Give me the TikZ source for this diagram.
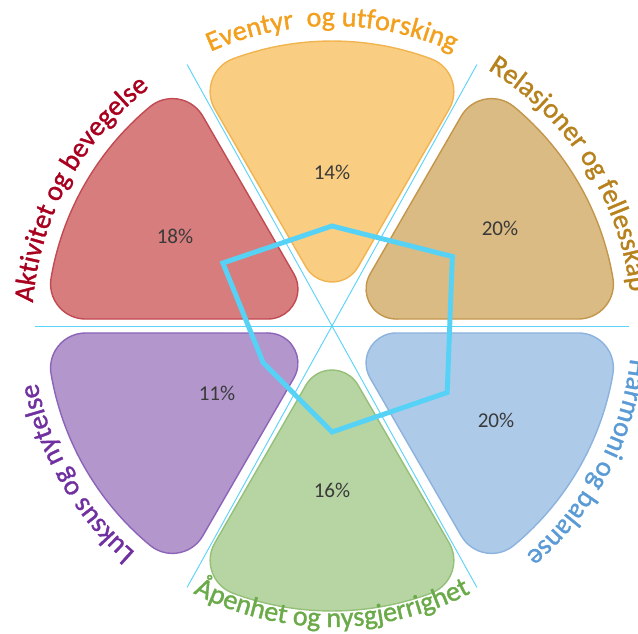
\documentclass[tikz,border=0pt]{standalone}
\usepackage{fontspec}
\setmainfont{Carlito}
\newfontfamily\labelfam{Carlito}[BoldFont=Carlito,BoldFeatures={FakeBold=1.2}]
\usetikzlibrary{decorations.text}
\definecolor{redfill}{HTML}{D77D7D}
\definecolor{redline}{HTML}{C24A52}
\definecolor{redtext}{HTML}{A8001E}
\definecolor{orgfill}{HTML}{F9CE82}
\definecolor{orgline}{HTML}{F2B450}
\definecolor{orgtext}{HTML}{F2A01E}
\definecolor{tanfill}{HTML}{DABB84}
\definecolor{tanline}{HTML}{C4964B}
\definecolor{tantext}{HTML}{B7821E}
\definecolor{blufill}{HTML}{ADCBE9}
\definecolor{bluline}{HTML}{8CB2DE}
\definecolor{blutext}{HTML}{5B9BD5}
\definecolor{grnfill}{HTML}{B7D5A3}
\definecolor{grnline}{HTML}{94C078}
\definecolor{grntext}{HTML}{6AAA48}
\definecolor{purfill}{HTML}{B296CC}
\definecolor{purline}{HTML}{8C64B9}
\definecolor{purtext}{HTML}{7030A0}
\definecolor{pcttext}{HTML}{3A3A3A}
\definecolor{linecol}{HTML}{5CD3F8}
\definecolor{radarcol}{HTML}{56D2F6}
\newcommand{\petalpath}{(25.98,59) -- (117.16,216.9) arc[start angle=-30, end angle=69.67, radius=35] arc[start angle=69.67, end angle=110.33, radius=285] arc[start angle=110.33, end angle=210, radius=35] -- (-25.98,59) arc[start angle=210, end angle=330, radius=30] -- cycle}
\newcommand{\labelfont}{\labelfam\bfseries\fontsize{24}{28}\selectfont}
\tikzset{
    petal/.style={line width=1.2pt},
    petred/.style={petal,fill=redfill,draw=redline},
    petorg/.style={petal,fill=orgfill,draw=orgline},
    pettan/.style={petal,fill=tanfill,draw=tanline},
    petblu/.style={petal,fill=blufill,draw=bluline},
    petgrn/.style={petal,fill=grnfill,draw=grnline},
    petpur/.style={petal,fill=purfill,draw=purline},
    divider/.style={draw=linecol,line width=0.8pt},
    radar/.style={draw=radarcol,line width=4.2pt},
    pct/.style={text=pcttext,font=\fontsize{18}{20}\selectfont,inner sep=0pt},
    arclabel/.style={decorate,decoration={text along path,text align=center,text={#1}}}
}
\begin{document}
\begin{tikzpicture}[x=0.03cm,y=0.03cm]
        \useasboundingbox (-332,-307) rectangle (306,326);

        % petals
        \draw[petorg] \petalpath;
        \draw[pettan,rotate=-60] \petalpath;
        \draw[petblu,rotate=-120] \petalpath;
        \draw[petgrn,rotate=180] \petalpath;
        \draw[petpur,rotate=120] \petalpath;
        \draw[petred,rotate=60] \petalpath;

        % dividing lines
        \draw[divider] (180:297) -- (0:297);
        \draw[divider] (119:299) -- (299:299);
        \draw[divider] (61:299) -- (241:299);

        % percentages
        \node[pct] (pcteventyr) at (0,154) {14\%};
        \node[pct] (pctrelasjon) at (168,98) {20\%};
        \node[pct] (pctharmoni) at (164,-94) {20\%};
        \node[pct] (pctapenhet) at (0,-164) {16\%};
        \node[pct] (pctluksus) at (-115,-67) {11\%};
        \node[pct] (pctaktivitet) at (-157,90) {18\%};

        % radar
        \coordinate (radeventyr) at (90:100);
        \coordinate (radrelasjon) at (30:139);
        \coordinate (radharmoni) at (-30:133);
        \coordinate (radapenhet) at (-90:106);
        \coordinate (radluksus) at (208:78);
        \coordinate (radaktivitet) at (150:126);
        \draw[radar] (radeventyr) -- (radrelasjon) -- (radharmoni) -- (radapenhet) -- (radluksus) -- (radaktivitet) -- cycle;

        % labels round the circle
        \path[arclabel={|\labelfont\color{orgtext}|Eventyr{\ } og utforsking}] (140:300) arc[start angle=140, end angle=40, radius=300];
        \path[arclabel={|\labelfont\color{tantext}|Relasjoner og fellesskap}] (82.6:300) arc[start angle=82.6, end angle=-17.4, radius=300];
        \path[arclabel={|\labelfont\color{blutext}|Harmoni og balanse}] (22:300) arc[start angle=22, end angle=-78, radius=300];
        \path[arclabel={|\labelfont\color{grntext}|Åpenhet og nysgjerrighet}] (220:301) arc[start angle=220, end angle=320, radius=301];
        \path[arclabel={|\labelfont\color{purtext}|Luksus og nytelse}] (260:300) arc[start angle=260, end angle=160, radius=300];
        \path[arclabel={|\labelfont\color{redtext}|Aktivitet og bevegelse}] (201.5:300) arc[start angle=201.5, end angle=101.5, radius=300];
    \end{tikzpicture}
\end{document}
